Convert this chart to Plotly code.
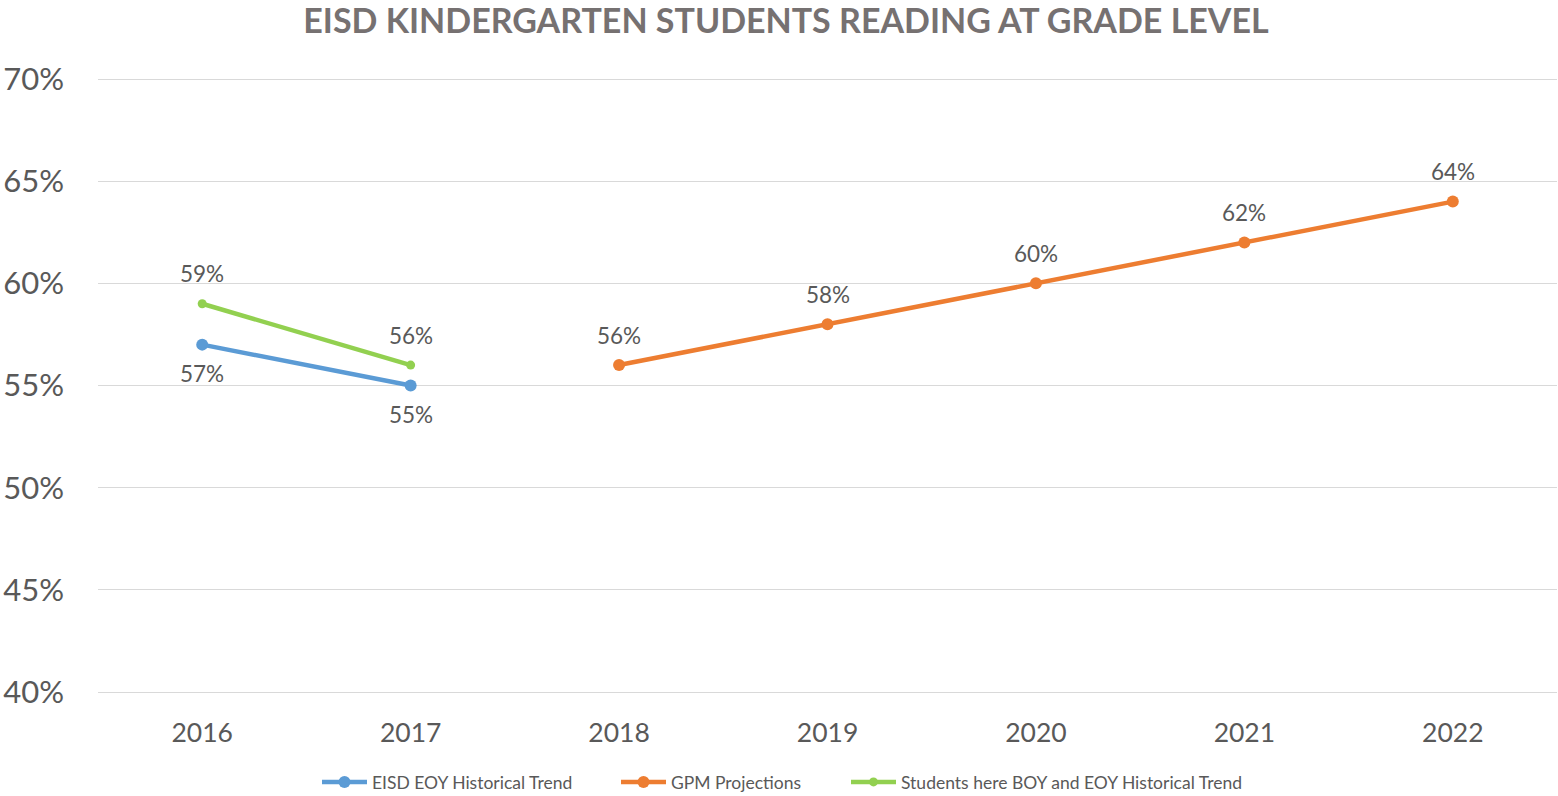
import plotly.graph_objects as go

years = ["2016", "2017", "2018", "2019", "2020", "2021", "2022"]
eisd_years = ["2016", "2017"]
eisd_vals = [0.57, 0.55]
gpm_years = ["2018", "2019", "2020", "2021", "2022"]
gpm_vals = [0.56, 0.58, 0.60, 0.62, 0.64]
boy_years = ["2016", "2017"]
boy_vals = [0.59, 0.56]
y_ticks = [0.40, 0.45, 0.50, 0.55, 0.60, 0.65, 0.70]

BLUE = "#5B9BD5"
ORANGE = "#ED7D31"
GREEN = "#92D050"
GRAY = "#595959"
FONT = "Lato"

fig = go.Figure()
fig.add_trace(go.Scatter(x=eisd_years, y=eisd_vals, mode="lines+markers",
                         name="EISD EOY Historical Trend", legend="legend",
                         line=dict(color=BLUE, width=4.5), marker=dict(size=12, color=BLUE)))
fig.add_trace(go.Scatter(x=gpm_years, y=gpm_vals, mode="lines+markers",
                         name="GPM Projections", legend="legend2",
                         line=dict(color=ORANGE, width=4.5), marker=dict(size=12, color=ORANGE)))
fig.add_trace(go.Scatter(x=boy_years, y=boy_vals, mode="lines+markers",
                         name="Students here BOY and EOY Historical Trend", legend="legend3",
                         line=dict(color=GREEN, width=4.5), marker=dict(size=9, color=GREEN)))

def add_labels(xs, ys, shift):
    for x, y in zip(xs, ys):
        fig.add_annotation(x=years.index(x), y=y, xref="x", yref="y",
                           text=f"{round(y*100)}%", showarrow=False,
                           yshift=shift, font=dict(family=FONT, size=22.5, color=GRAY))

add_labels(eisd_years, eisd_vals, -29)
add_labels(gpm_years, gpm_vals, 30)
add_labels(boy_years, boy_vals, 30)

PLOT_L, PLOT_W = 98, 1459
def legend_at(px):
    return dict(orientation="h", x=(px - PLOT_L) / PLOT_W, xanchor="left",
                y=-0.1385, yanchor="middle", bgcolor="rgba(0,0,0,0)",
                font=dict(family=FONT, size=17.5, color=GRAY), itemwidth=45)

fig.update_layout(
    width=1558, height=820,
    margin=dict(l=98, r=1, t=75, b=124),
    paper_bgcolor="white", plot_bgcolor="white",
    title=dict(text="<b>EISD KINDERGARTEN STUDENTS READING AT GRADE LEVEL</b>",
               x=0.5045, xanchor="center", y=1 - 21.5 / 820, yanchor="middle",
               font=dict(family=FONT, size=34, color="#767171")),
    font=dict(family=FONT, color=GRAY),
    showlegend=True,
    legend=legend_at(317),
    legend2=legend_at(616),
    legend3=legend_at(846),
    xaxis=dict(type="category", categoryorder="array", categoryarray=years,
               range=[-0.5, 6.5], showgrid=False, zeroline=False, showline=False,
               tickfont=dict(family=FONT, size=26.5, color=GRAY), ticks="",
               ticklabelstandoff=18),
    yaxis=dict(range=[0.39804, 0.70196], tickvals=y_ticks, tickformat=".0%",
               showgrid=True, gridcolor="#D9D9D9", gridwidth=1.3, zeroline=False,
               showline=False, ticks="",
               tickfont=dict(family=FONT, size=31, color=GRAY), ticklabelstandoff=33),
)

fig.write_html("out.html", config={"displayModeBar": False},
               post_script="document.body.style.margin='0';document.body.style.overflow='hidden';")
